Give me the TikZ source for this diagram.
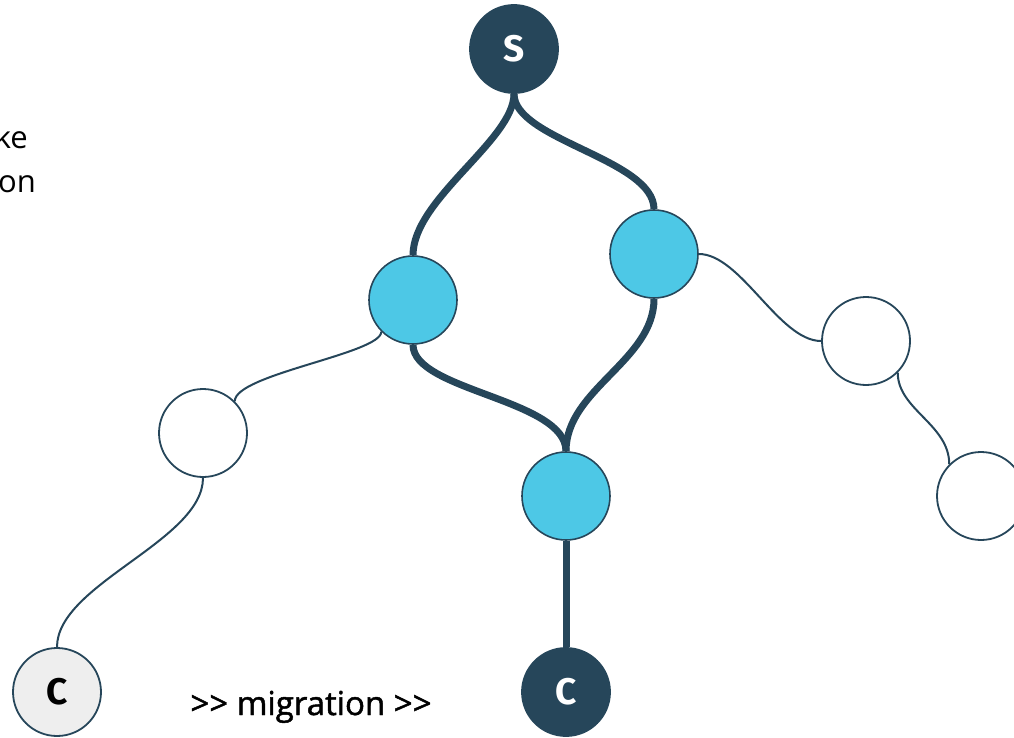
\documentclass[tikz,border=0pt]{standalone}
\usepackage{fontspec}
\setmainfont{Open Sans}
\newfontfamily\letterfont{Fira Sans}
\newfontfamily\heavyfont{Open Sans}[FakeBold=1.4]
\definecolor{navy}{HTML}{26465A}
\definecolor{sky}{HTML}{4DC8E6}
\definecolor{pale}{HTML}{EEEEEE}
\pgfdeclarelayer{background}
\pgfsetlayers{background,main}
\begin{document}
\begin{tikzpicture}[x=1pt,y=-1pt,
  vertex/.style={circle,minimum size=88pt,inner sep=0pt,draw=navy,line width=1.8pt},
  endpoint/.style={vertex,fill=navy,text=white,font=\letterfont\bfseries\fontsize{37}{37}\selectfont},
  client/.style={vertex,fill=pale,text=black,font=\letterfont\bfseries\fontsize{37}{37}\selectfont},
  hop/.style={vertex,fill=sky,line width=1.6pt},
  idle/.style={vertex,fill=white},
  path/.style={draw=navy,line width=7pt},
  link/.style={draw=navy,line width=2pt},
  caption/.style={inner sep=0pt,font=\fontsize{31}{31}\selectfont}]
\useasboundingbox (0,0) rectangle (1014,738);

% nodes
\node[endpoint] (s)  at (514,49)  {S};
\node[hop]      (h1) at (413,300) {};
\node[hop]      (h2) at (654,254) {};
\node[hop]      (h3) at (566,496) {};
\node[endpoint] (c)  at (566,692) {C};
\node[idle]     (w1) at (203,433) {};
\node[idle]     (w2) at (866,341) {};
\node[idle]     (w3) at (981,496) {};
\node[client]   (c0) at (57,692)  {C};

% texts
\node[caption,anchor=base east] (t1) at (28,149) {ke};
\node[caption,anchor=base east] (t2) at (36,193) {on};
\node[caption,anchor=base,font=\heavyfont\fontsize{33}{33}\selectfont] (mig) at (311,715) {>{}> migration >{}>};

\begin{pgfonlayer}{background}
  % active route
  \draw[path] (s.south) .. controls +(0,46) and +(0,-56) .. (h1.north);
  \draw[path] (s.south) .. controls +(0,46) and +(0,-50) .. (h2.north);
  \draw[path] (h1.south) .. controls +(0,46) and +(0,-52) .. (h3.north);
  \draw[path] (h2.south) .. controls +(0,62) and +(0,-62) .. (h3.north);
  \draw[path] (h3.south) -- (c.north);
  % unused links
  \draw[link] (h1.225) .. controls +(0,22) and +(0,-27) .. (w1.45);
  \draw[link] (w1.south) .. controls +(0,63) and +(0,-63) .. (c0.north);
  \draw[link] (h2.east) .. controls +(42,0) and +(-42,0) .. (w2.west);
  \draw[link] (w2.-45) .. controls +(0,37) and +(0,-40) .. (w3.135);
\end{pgfonlayer}
\end{tikzpicture}
\end{document}
